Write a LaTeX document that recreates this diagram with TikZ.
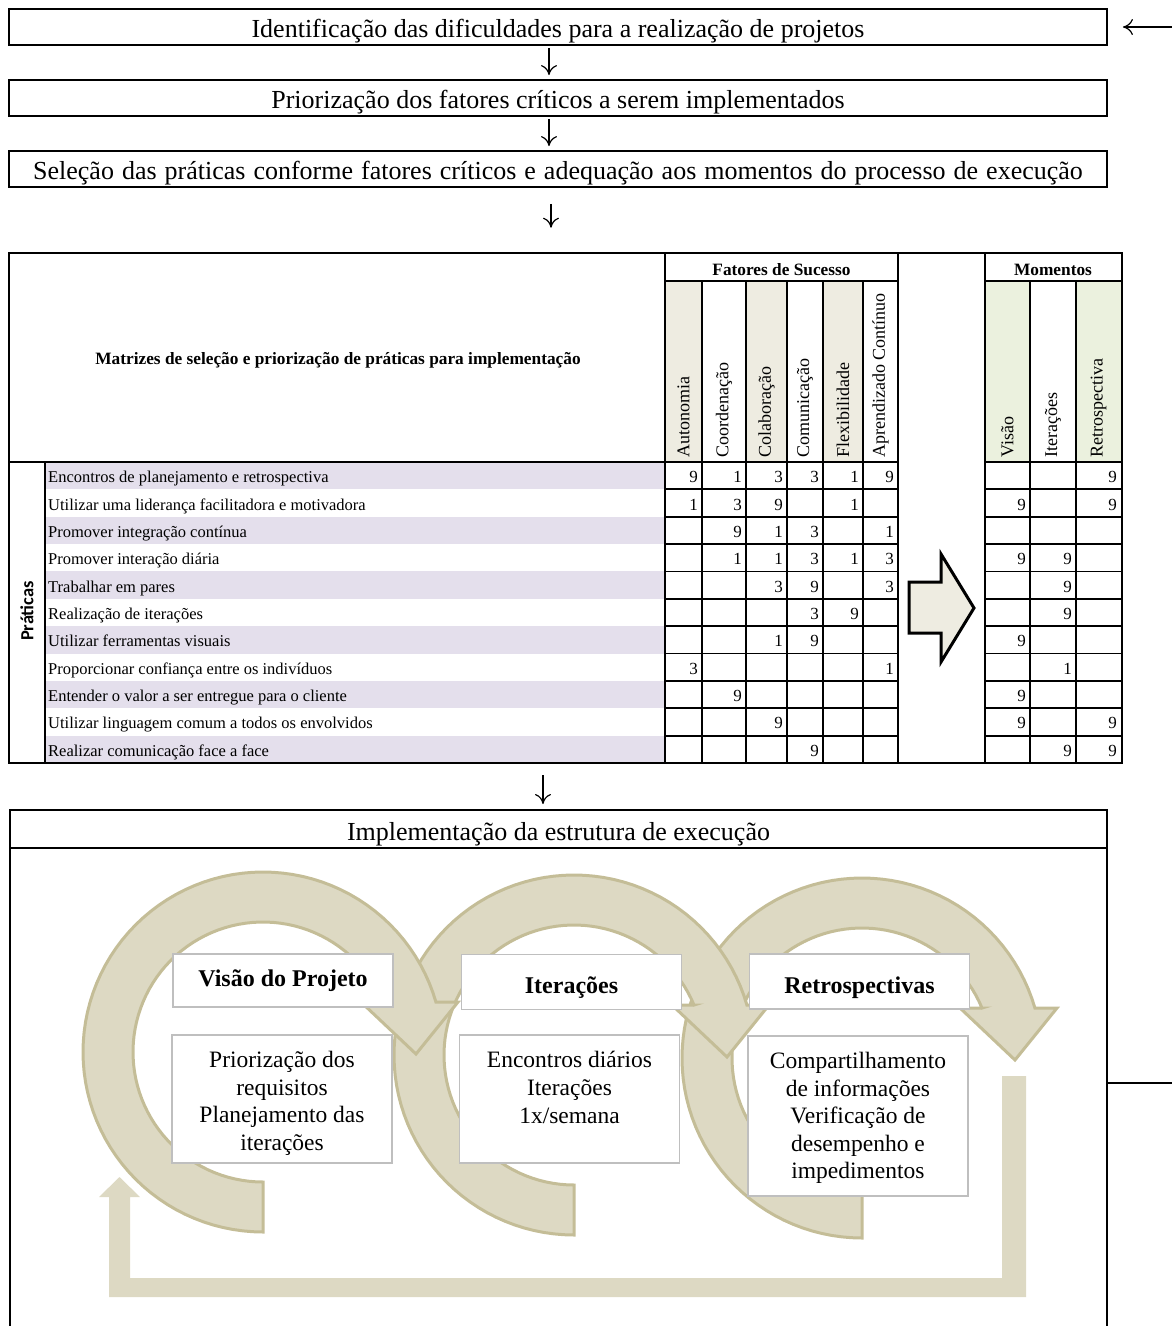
\documentclass[tikz,border=0pt]{standalone}
\usepackage{fontspec}
\setmainfont{Liberation Serif}
\newfontfamily\calibrisub{Carlito}
\usetikzlibrary{arrows.meta,calc}

\definecolor{ringfill}{HTML}{DDD9C3}
\definecolor{ringedge}{HTML}{C4BD97}
\definecolor{rowlav}{HTML}{E4DFEC}
\definecolor{headtan}{HTML}{EEECE1}
\definecolor{headgreen}{HTML}{EBF1DE}
\definecolor{boxgray}{HTML}{BFBFBF}

\newcommand\fsTop{\fontsize{26}{31}\selectfont}
\newcommand\fsHead{\fontsize{17.3}{20}\selectfont}
\newcommand\fsColHead{\fontsize{18}{21}\selectfont}
\newcommand\fsLabel{\fontsize{16.5}{19}\selectfont}
\newcommand\fsNum{\fontsize{17}{20}\selectfont}
\newcommand\fsCycleHead{\fontsize{24}{28}\selectfont}
\newcommand\fsCycleBody{\fontsize{23.5}{27.6}\selectfont}

% curved process arrow: centre (#1,#2), ring from 130 to 180, head pointing down at the right
\newcommand\ringarrow[2]{%
  \filldraw[ringstyle]
    plot[domain=90:343.87, samples=80] ({#1+180*cos(\x)}, {#2+180*sin(\x)})
    -- ({#1+195}, {#2-50}) -- ({#1+153}, {#2+2}) -- ({#1+98}, {#2-50}) -- ({#1+120}, {#2-50})
    -- plot[domain=90:337.38, samples=80] ({#1+130*cos(427.38-\x)}, {#2+130*sin(427.38-\x)})
    -- cycle;}

% one row of the practice matrix: row number, label, nine scores
\newcommand\tabrow[3]{%
  \node[rowlabel] (lab#1) at (48,{462+(#1-0.5)*27.3636+7}) {#2};
  \foreach \v [count=\j] in {#3} {
    \pgfmathsetmacro\xr{{702,746,787,823,863,898,1030,1076,1121}[\j-1]-4}
    \node[numcell] (val-#1-\j) at (\xr,{462+(#1-0.5)*27.3636+7}) {\v};
  }}

\begin{document}
\begin{tikzpicture}[x=1pt,y=-1pt,
  flowbox/.style={draw, line width=1.8pt, minimum width=1098pt, minimum height=36pt, inner sep=0pt, text height=20pt, text depth=0pt, font=\fsTop},
  flowarrow/.style={line width=1.2pt, -{Computer Modern Rightarrow[length=10pt,width=16pt]}},
  gridline/.style={line width=1.8pt},
  thickgrid/.style={line width=2.6pt},
  rowlabel/.style={anchor=base west, inner sep=0pt, font=\fsLabel},
  numcell/.style={anchor=base east, inner sep=0pt, font=\fsNum},
  colhead/.style={rotate=90, anchor=west, inner sep=0pt, font=\fsColHead},
  ringstyle/.style={fill=ringfill, draw=ringedge, line width=3pt, line join=miter},
  phasehead/.style={draw=boxgray, line width=1.5pt, fill=white, inner sep=0pt, minimum width=220pt, minimum height=55pt, font={\fsCycleHead\bfseries}},
  phasebody/.style={draw=boxgray, line width=1.5pt, fill=white, inner sep=0pt, minimum width=220pt},
  phasetext/.style={align=center, inner sep=0pt, font=\fsCycleBody},
]
\useasboundingbox (0,0) rectangle (1172,1326);

% ---------- sequence of steps ----------
\node[flowbox] (s1) at (558,27) {Identificação das dificuldades para a realização de projetos};
\node[flowbox] (s2) at (558,98) {Priorização dos fatores críticos a serem implementados};
\node[flowbox] (s3) at (558,169) {\spaceskip=8pt plus 1pt Seleção das práticas conforme fatores críticos e adequação aos momentos do processo de execução};

\draw[flowarrow] ($(s1.south)+(-9,2)$) -- ($(s2.north)+(-9,-4)$);
\draw[flowarrow] ($(s2.south)+(-9,2)$) -- ($(s3.north)+(-9,-4)$);

\coordinate (loopin) at (1172,27);
\draw[flowarrow] (loopin) -- ($(s1.east)+(15,0)$);

% ---------- selection matrix ----------
\foreach \i in {0,2,...,10}
  \fill[rowlav] (45,{462+\i*27.3636}) rectangle (665,{462+(\i+1)*27.3636});
\fill[headtan] (665,281) rectangle (702,462);
\fill[headtan] (746,281) rectangle (787,462);
\fill[headtan] (823,281) rectangle (863,462);
\fill[headgreen] (985,281) rectangle (1030,462);
\fill[headgreen] (1076,281) rectangle (1121,462);

\foreach \x in {702,746,787,823,863} \draw[gridline] (\x,281) -- (\x,763);
\foreach \x in {1030,1076} \draw[gridline] (\x,281) -- (\x,763);
\foreach \i in {1,...,10} {
  \draw[gridline] (665,{462+\i*27.3636}) -- (898,{462+\i*27.3636});
  \draw[gridline] (985,{462+\i*27.3636}) -- (1122,{462+\i*27.3636});
}
\draw[gridline] (665,281) -- (898,281);
\draw[gridline] (985,281) -- (1122,281);
\draw[gridline] (898,253) -- (898,763);
\draw[gridline] (45,462) -- (45,763);
\draw[thickgrid] (665,253) -- (665,763);
\draw[thickgrid] (985,253) -- (985,763);
\draw[thickgrid] (9,462) -- (898,462);
\draw[thickgrid] (985,462) -- (1122,462);
\node[draw, line width=2.6pt, minimum width=1113pt, minimum height=510pt, inner sep=0pt] (tbl) at (565.5,508) {};

\node[font={\fsHead\bfseries}] (mtitle) at (338,360) {Matrizes de seleção e priorização de práticas para implementação};
\node[font={\fsHead\bfseries}] (fhead) at (781.5,269.5) {Fatores de Sucesso};
\node[font={\fsHead\bfseries}] (mhead) at (1053,269.5) {Momentos};
\node[rotate=90, font={\calibrisub\bfseries\fontsize{18.5}{22}\selectfont}] (prat) at (27,611) {Práticas};

\foreach \x/\t [count=\k] in {683.5/Autonomia, 724/Coordenação, 766.5/Colaboração, 805/Comunicação, 843/Flexibilidade, 880.5/Aprendizado Contínuo, 1007.5/Visão, 1053/Iterações, 1098.5/Retrospectiva}
  \node[colhead] (ch\k) at (\x,458) {\t};

\tabrow{1}{Encontros de planejamento e retrospectiva}{9,1,3,3,1,9,,,9}
\tabrow{2}{Utilizar uma liderança facilitadora e motivadora}{1,3,9,,1,,9,,9}
\tabrow{3}{Promover integração contínua}{,9,1,3,,1,,,}
\tabrow{4}{Promover interação diária}{,1,1,3,1,3,9,9,}
\tabrow{5}{Trabalhar em pares}{,,3,9,,3,,9,}
\tabrow{6}{Realização de iterações}{,,,3,9,,,9,}
\tabrow{7}{Utilizar ferramentas visuais}{,,1,9,,,9,,}
\tabrow{8}{Proporcionar confiança entre os indivíduos}{3,,,,,1,,1,}
\tabrow{9}{Entender o valor a ser entregue para o cliente}{,9,,,,,9,,}
\tabrow{10}{Utilizar linguagem comum a todos os envolvidos}{,,9,,,,9,,9}
\tabrow{11}{Realizar comunicação face a face}{,,,9,,,,9,9}

% block arrow from factors to moments
\filldraw[fill=headtan, draw=black, line width=3pt, line join=miter]
  (909,582) -- (941,582) -- (941,554) -- (974,608) -- (941,662) -- (941,633) -- (909,633) -- cycle;

\draw[flowarrow] ($(s3.south)+(-7,16)$) -- ($(tbl.north)+(-14.5,-24)$);

% ---------- execution structure ----------
\node[draw, line width=1.8pt, outer sep=0pt, minimum width=1097pt, minimum height=38pt, inner sep=0pt, text height=22pt, text depth=0pt, font=\fsTop] (impl) at (558.5,829) {Implementação da estrutura de execução};
\draw[line width=1.8pt] (impl.south west) -- (impl.south west |- 0,1330);
\draw[line width=1.8pt] (impl.south east) -- (impl.south east |- 0,1330);
\draw[flowarrow] ($(tbl.south)+(-22.5,11)$) -- ($(impl.north)+(-15.5,-6)$);

\coordinate (loopout) at (1172,1083);
\draw[line width=1.5pt] (impl.east |- loopout) -- (loopout);

% feedback loop back to the first phase
\fill[ringfill] (1002,1076) -- (1026,1076) -- (1026,1297) -- (109,1297) -- (109,1197) -- (99,1197)
  -- (119.5,1177) -- (140,1197) -- (130,1197) -- (130,1278) -- (1002,1278) -- cycle;

\ringarrow{862}{1058}
\ringarrow{574}{1055}
\ringarrow{263}{1052}

\node[phasehead, minimum height=53pt] (hv) at (283,980.5) {Visão do Projeto};
\node[phasehead, text height=23pt, text depth=0pt] (hi) at (571.5,982) {Iterações};
\node[phasehead, text height=23pt, text depth=0pt] (hr) at (859.5,981.5) {Retrospectivas};

\node[phasebody, minimum height=128pt] (bv) at (282,1099) {};
\node[phasebody, minimum height=128pt] (bi) at (569.5,1099) {};
\node[phasebody, minimum height=160pt] (br) at (858,1116) {};

\node[phasetext] (tv) at (282,1103.5) {Priorização dos\\requisitos\\Planejamento das\\iterações};
\node[phasetext] (ti) at (569.5,1087.5) {Encontros diários\\Iterações\\1x/semana};
\node[phasetext] (tr) at (858,1118) {Compartilhamento\\de informações\\Verificação de\\desempenho e\\impedimentos};
\end{tikzpicture}
\end{document}
